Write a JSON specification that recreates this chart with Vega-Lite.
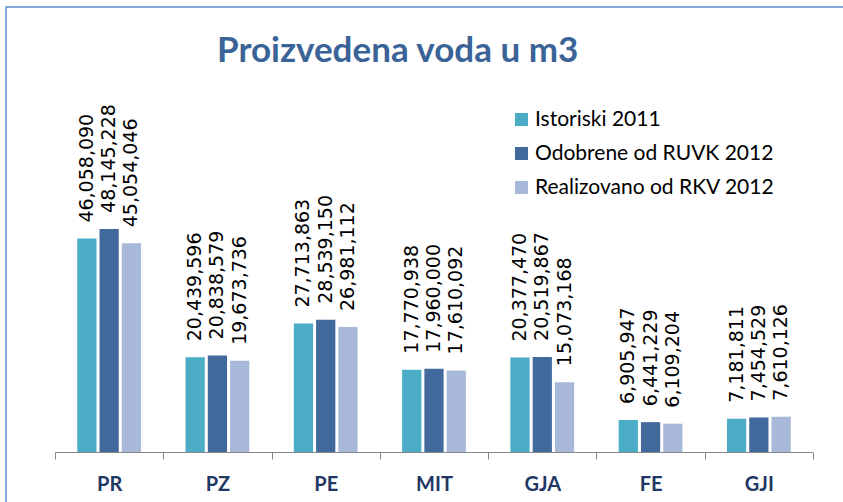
{
  "$schema": "https://vega.github.io/schema/vega-lite/v6.json",
  "width": 840,
  "height": 498,
  "autosize": {"type": "none"},
  "padding": {"left": 6, "top": 7, "right": 0, "bottom": 0},
  "background": "white",
  "config": {
    "view": {"stroke": "#5B8BC9", "strokeWidth": 1.5},
    "legend": {
      "orient": "none",
      "legendX": 505,
      "legendY": 102,
      "symbolType": "square",
      "symbolSize": 170,
      "symbolStrokeWidth": 0,
      "labelFont": "Lato",
      "labelFontSize": 21,
      "labelColor": "#000000",
      "rowPadding": 12,
      "labelOffset": 3,
      "padding": 0,
      "labelLimit": 400
    }
  },
  "title": {
    "text": "Proizvedena voda u m3",
    "font": "Lato",
    "fontSize": 35,
    "fontWeight": "bold",
    "color": "#3A6397",
    "anchor": "start",
    "frame": "group",
    "dx": 211,
    "offset": -62
  },
  "data": {
    "values": [
      {"cat": "PR", "series": "Istoriski 2011", "value": 46058090},
      {"cat": "PR", "series": "Odobrene od RUVK 2012", "value": 48145228},
      {"cat": "PR", "series": "Realizovano od RKV 2012", "value": 45054046},
      {"cat": "PZ", "series": "Istoriski 2011", "value": 20439596},
      {"cat": "PZ", "series": "Odobrene od RUVK 2012", "value": 20838579},
      {"cat": "PZ", "series": "Realizovano od RKV 2012", "value": 19673736},
      {"cat": "PE", "series": "Istoriski 2011", "value": 27713863},
      {"cat": "PE", "series": "Odobrene od RUVK 2012", "value": 28539150},
      {"cat": "PE", "series": "Realizovano od RKV 2012", "value": 26981112},
      {"cat": "MIT", "series": "Istoriski 2011", "value": 17770938},
      {"cat": "MIT", "series": "Odobrene od RUVK 2012", "value": 17960000},
      {"cat": "MIT", "series": "Realizovano od RKV 2012", "value": 17610092},
      {"cat": "GJA", "series": "Istoriski 2011", "value": 20377470},
      {"cat": "GJA", "series": "Odobrene od RUVK 2012", "value": 20519867},
      {"cat": "GJA", "series": "Realizovano od RKV 2012", "value": 15073168},
      {"cat": "FE", "series": "Istoriski 2011", "value": 6905947},
      {"cat": "FE", "series": "Odobrene od RUVK 2012", "value": 6441229},
      {"cat": "FE", "series": "Realizovano od RKV 2012", "value": 6109204},
      {"cat": "GJI", "series": "Istoriski 2011", "value": 7181811},
      {"cat": "GJI", "series": "Odobrene od RUVK 2012", "value": 7454529},
      {"cat": "GJI", "series": "Realizovano od RKV 2012", "value": 7610126}
    ]
  },
  "encoding": {
    "x": {
      "field": "cat",
      "type": "nominal",
      "sort": ["PR", "PZ", "PE", "MIT", "GJA", "FE", "GJI"],
      "scale": {"range": [49, 807], "paddingInner": 0, "paddingOuter": 0},
      "axis": {
        "title": null,
        "labelAngle": 0,
        "labelFont": "Lato",
        "labelFontSize": 20,
        "labelFontWeight": "bold",
        "labelColor": "#1F3864",
        "labelPadding": 15,
        "tickBand": "extent",
        "tickSize": 7,
        "tickColor": "#878787",
        "domainColor": "#878787",
        "offset": -53
      }
    },
    "xOffset": {
      "field": "series",
      "type": "nominal",
      "sort": ["Istoriski 2011", "Odobrene od RUVK 2012", "Realizovano od RKV 2012"],
      "scale": {"paddingInner": 0.136, "paddingOuter": 1.02}
    },
    "y": {
      "field": "value",
      "type": "quantitative",
      "scale": {"domain": [0, 60000000], "range": [445, 167]},
      "axis": null
    }
  },
  "layer": [
    {
      "mark": {"type": "bar"},
      "encoding": {
        "color": {
          "field": "series",
          "type": "nominal",
          "sort": ["Istoriski 2011", "Odobrene od RUVK 2012", "Realizovano od RKV 2012"],
          "scale": {
            "domain": ["Istoriski 2011", "Odobrene od RUVK 2012", "Realizovano od RKV 2012"],
            "range": ["#4BACC6", "#41699C", "#A8B8D8"]
          },
          "legend": {"title": null}
        }
      }
    },
    {
      "mark": {
        "type": "text",
        "angle": -90,
        "align": "left",
        "baseline": "middle",
        "dx": 16,
        "font": "DejaVu Sans",
        "fontSize": 19,
        "color": "#000000"
      },
      "encoding": {
        "text": {"field": "value", "type": "quantitative", "format": ",d"}
      }
    }
  ]
}
